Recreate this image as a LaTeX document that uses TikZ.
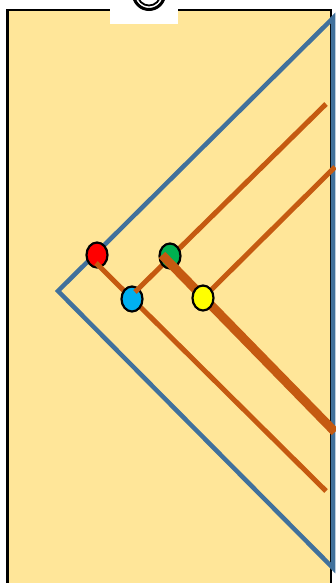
\documentclass[tikz,border=0pt]{standalone}
\usetikzlibrary{shapes.geometric}
\definecolor{bg}{HTML}{FFE699}
\definecolor{bluel}{HTML}{41719C}
\definecolor{orng}{HTML}{C55A11}
\definecolor{dred}{HTML}{FF0000}
\definecolor{dgreen}{HTML}{00B050}
\definecolor{dblue}{HTML}{00B0F0}
\definecolor{dyellow}{HTML}{FFFF00}
\tikzset{
  dot/.style={ellipse, draw=black, line width=2.2pt, minimum width=21pt, minimum height=25pt, inner sep=0pt},
  thinline/.style={draw=orng, line width=5pt},
  thickline/.style={draw=orng, line width=9pt},
}
\begin{document}
\begin{tikzpicture}[x=1pt,y=-1pt]
\useasboundingbox (0,0) rectangle (335,583);
\fill[white] (0,0) rectangle (335,583);
\draw[fill=bg, line width=2.5pt] (7.5,10) rectangle (331,600);
\fill[white] (110,0) rectangle (178,24);
\draw[line width=3pt] (149,-6) circle (15.5);
\draw[line width=1.8pt] (149,-6) circle (11.5);
% blue triangle
\draw[bluel, line width=4.5pt, line join=miter] (333,18) -- (58,291) -- (333,568) -- cycle;
% line ends
\coordinate (e1) at (326,491);
\coordinate (e2) at (326,104);
\coordinate (e3) at (335,432);
\coordinate (e4) at (335,167);
% red dot and its line
\node[dot, fill=dred] (r) at (97,255) {};
\draw[thinline] ([shift={(-1,8)}]r.center) -- (e1);
% blue dot and its line
\node[dot, fill=dblue] (b) at (132,299) {};
\draw[thinline] ([shift={(3,-7)}]b.center) -- (e2);
% green dot and thick line
\node[dot, fill=dgreen] (g) at (170,256) {};
\draw[thickline] ([shift={(-8,-1)}]g.center) -- (e3);
% yellow dot and its line
\draw[thinline] (203,298) -- (e4);
\node[dot, fill=dyellow] (y) at (203,298) {};
\end{tikzpicture}
\end{document}
